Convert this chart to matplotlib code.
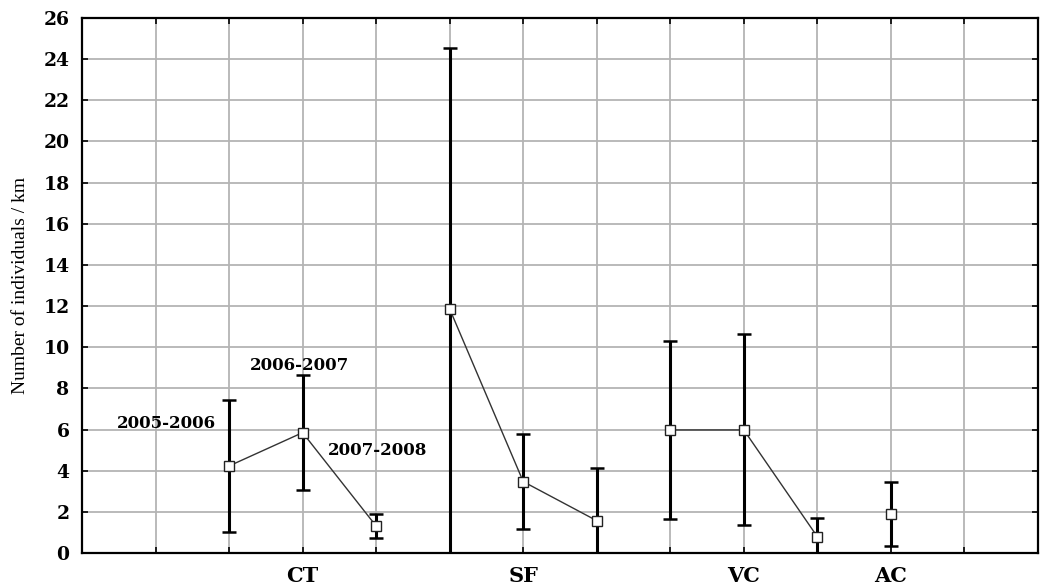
import numpy as np
import matplotlib
matplotlib.use("Agg")
import matplotlib.pyplot as plt

# mean density per site and season, with half-width of the error bar
sites = ["CT", "SF", "VC", "AC"]
seasons = ["2005-2006", "2006-2007", "2007-2008"]
site_pos = [[2, 3, 4], [5, 6, 7], [8, 9, 10], [11]]
means = [[4.23, 5.85, 1.31], [11.86, 3.47, 1.57], [5.98, 5.98, 0.79], [1.89]]
errs = [[3.2, 2.8, 0.6], [12.7, 2.3, 2.55], [4.33, 4.64, 0.93], [1.55]]
label_pos = [3, 6, 9, 11]

bold = dict(family=['DejaVu Serif'], fontweight='bold')

fig = plt.figure(figsize=(10.47, 5.86), dpi=100)
ax = fig.add_axes([0.0783, 0.0563, 0.9131, 0.913])

for x, m, e in zip(site_pos, means, errs):
    ax.errorbar(x, m, yerr=e, fmt='none', ecolor='black', elinewidth=2.2,
                capsize=5, capthick=1.8, zorder=3)
    ax.plot(x, m, color='#333333', lw=1.0, marker='s', markersize=7.5,
            markerfacecolor='white', markeredgecolor='#222222',
            markeredgewidth=1.0, zorder=4)

# season labels beside the CT points
ax.text(1.15, 6.27, seasons[0], ha='center', va='center', fontsize=12, **bold)
ax.text(2.96, 9.1, seasons[1], ha='center', va='center', fontsize=12, **bold)
ax.text(4.02, 5.0, seasons[2], ha='center', va='center', fontsize=12, **bold)

ax.set_xlim(0, 13)
ax.set_ylim(0, 26)
ax.set_yticks(np.arange(0, 27, 2))
ticks = np.arange(0, 14)
ax.set_xticks(ticks)
names = dict(zip(label_pos, sites))
ax.set_xticklabels([names.get(t, '') for t in ticks])

ax.grid(True, color='#b4b4b4', lw=1.3)
ax.set_axisbelow(True)
ax.tick_params(direction='in', length=4, width=1.2, top=True, right=True)
ax.tick_params(axis='x', pad=9)
ax.tick_params(axis='y', pad=9)
for lab in ax.get_xticklabels():
    lab.set_fontfamily('DejaVu Serif')
    lab.set_fontweight('bold')
    lab.set_fontsize(15)
for lab in ax.get_yticklabels():
    lab.set_fontfamily('DejaVu Serif')
    lab.set_fontweight('bold')
    lab.set_fontsize(13.5)
for s in ax.spines.values():
    s.set_linewidth(1.6)

ax.set_ylabel("Number of individuals / km", fontsize=14, family=['Liberation Serif'])
ax.yaxis.set_label_coords(-0.055, 0.5)

fig.savefig("out.png", dpi=100)
